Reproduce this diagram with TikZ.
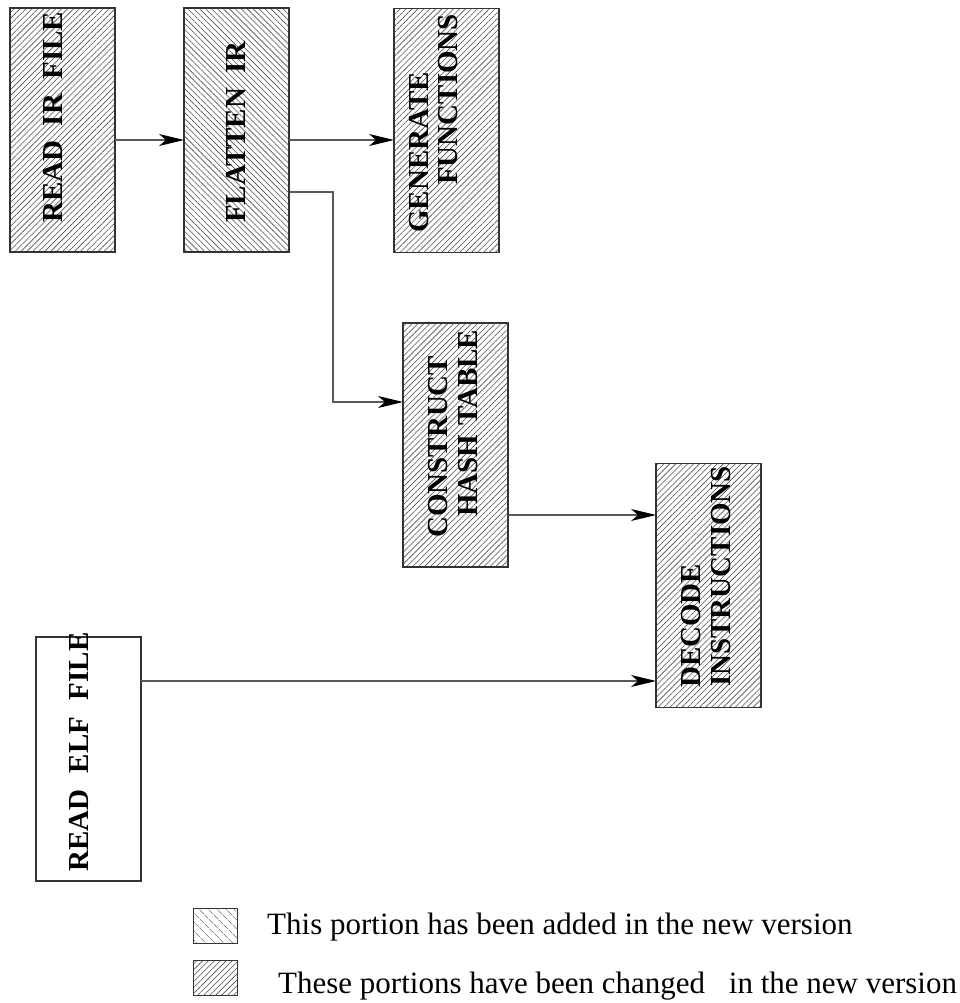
\documentclass[tikz,border=0pt]{standalone}
\usepackage{fontspec}
\setmainfont{Liberation Serif}
\usetikzlibrary{patterns.meta,arrows.meta}

\begin{document}
\begin{tikzpicture}[x=1pt,y=-1pt,
  stage/.style={draw=black!80, line width=1.1pt, inner sep=0pt, outer sep=0pt,
    minimum width=105pt, minimum height=244pt},
  changed/.style={pattern={Lines[angle=45,distance=4.2pt,line width=0.6pt]}, pattern color=black!70},
  added/.style={pattern={Lines[angle=-45,distance=4.2pt,line width=0.6pt]}, pattern color=black!70},
  flow/.style={draw=black!65, line width=1.1pt,
    -{Stealth[length=25pt,width=12pt,inset=7pt,color=black]}},
  steplabel/.style={rotate=90, anchor=base west, inner sep=0pt,
    font=\fontsize{29}{29}\selectfont\bfseries},
  legendtext/.style={anchor=base west, inner sep=0pt, font=\fontsize{31}{31}\selectfont},
  swatch/.style={draw=black!80, line width=1pt, inner sep=0pt, outer sep=0pt,
    minimum width=44pt, minimum height=35pt}
]
\useasboundingbox (0,0) rectangle (959,1003);

% processing stages
\node[stage, changed] (readir)    at (62.5,130)  {};
\node[stage, added]   (flatten)   at (236.5,130) {};
\node[stage, changed] (generate)  at (446.5,130.5) {};
\node[stage, changed] (construct) at (455.5,445) {};
\node[stage, changed] (decode)    at (708.5,585.5) {};
\node[stage]          (readelf)   at (88.5,759)  {};

% stage labels
\node[steplabel] (lreadir) at (62,223) {READ\hspace{0.5em}IR\hspace{0.5em}FILE};
\node[steplabel] (lflatten) at (245,223) {FLATTEN\hspace{0.5em}IR};
\node[steplabel] (lgen1) at (428,233) {GENERATE};
\node[steplabel] (lgen2) at (457,185) {FUNCTIONS};
\node[steplabel] (lcon1) at (447,538) {CONSTRUCT};
\node[steplabel] (lcon2) at (477,517) {HASH\hspace{0.3em}TABLE};
\node[steplabel] (ldec1) at (700,688) {DECODE};
\node[steplabel] (ldec2) at (730,687) {INSTRUCTIONS};
\node[steplabel] (lreadelf) at (88,872) {READ\hspace{0.57em}ELF\hspace{0.57em}FILE};

% connector rows
\coordinate (rowA) at (0,140);
\coordinate (rowB) at (0,192);
\coordinate (bend) at (333,402);
\coordinate (rowC) at (0,515);
\coordinate (rowD) at (0,681);

\draw[flow] (readir.east |- rowA) -- (flatten.west |- rowA);
\draw[flow] (flatten.east |- rowA) -- (generate.west |- rowA);
\draw[flow] (flatten.east |- rowB) -| (bend) -- (construct.west |- bend);
\draw[flow] (construct.east |- rowC) -- (decode.west |- rowC);
\draw[flow] (readelf.east |- rowD) -- (decode.west |- rowD);

% legend
\node[swatch, pattern={Lines[angle=-45,distance=6.5pt,line width=0.6pt]}, pattern color=black!70]
  (keyadded) at (215,925.5) {};
\node[swatch, changed] (keychanged) at (215,977.5) {};
\node[legendtext] (tadded) at (267,934) {This portion has been added in the new version};
\node[legendtext] (tchanged) at (278,993) {These portions have been changed\hspace{16pt} in the new version};
\end{tikzpicture}
\end{document}
